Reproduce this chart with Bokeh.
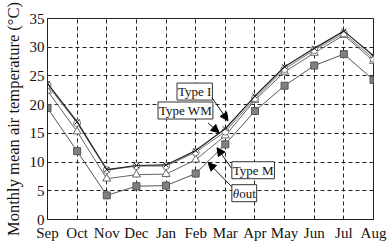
from bokeh.plotting import figure
from bokeh.models import Range1d, Label, Arrow, NormalHead, FixedTicker
from bokeh.embed import file_html
from bokeh.resources import INLINE

months = ["Sep", "Oct", "Nov", "Dec", "Jan", "Feb", "Mar", "Apr", "May", "Jun", "Jul", "Aug"]
type_i = [23.7, 17.0, 8.7, 9.4, 9.5, 12.0, 15.8, 21.5, 26.6, 29.8, 32.8, 28.5]
type_wm = [23.4, 16.8, 8.6, 9.3, 9.3, 11.7, 15.3, 21.1, 26.2, 29.5, 32.4, 28.0]
type_m = [22.4, 15.3, 7.1, 7.8, 7.9, 10.4, 14.6, 20.8, 25.7, 29.0, 32.1, 27.6]
theta_out = [19.4, 11.9, 4.2, 5.8, 5.9, 8.0, 13.1, 18.9, 23.3, 26.8, 28.8, 24.3]
y_ticks = [0, 5, 10, 15, 20, 25, 30, 35]

xs = list(range(len(months)))
FONT = "Liberation Serif"

p = figure(width=387, height=243, output_backend="svg", toolbar_location=None,
           x_range=Range1d(0, 11), y_range=Range1d(0, 35),
           min_border_left=46, min_border_right=14, min_border_top=18, min_border_bottom=23)
p.background_fill_color = "white"
p.outline_line_color = "#222222"
p.outline_line_width = 1

p.xaxis.ticker = FixedTicker(ticks=xs)
p.xaxis.major_label_overrides = {i: m for i, m in enumerate(months)}
p.yaxis.ticker = FixedTicker(ticks=y_ticks)
for ax in (p.xaxis, p.yaxis):
    ax.major_label_text_font = FONT
    ax.major_label_text_font_size = "15px"
    ax.major_label_text_color = "#111111"
    ax.major_tick_out = 0
    ax.major_tick_in = 0
    ax.minor_tick_out = 0
    ax.minor_tick_in = 0
    ax.axis_line_color = "#222222"
p.xaxis.major_label_standoff = 5
p.yaxis.major_label_standoff = 3
p.yaxis.axis_label = "Monthly mean air temperature (°C)"
p.yaxis.axis_label_text_font = FONT
p.yaxis.axis_label_text_font_size = "16.5px"
p.yaxis.axis_label_text_font_style = "normal"
p.yaxis.axis_label_text_color = "#111111"
p.yaxis.axis_label_standoff = 4

p.grid.grid_line_color = "#222222"
p.grid.grid_line_dash = "4 3"
p.grid.grid_line_width = 1

# series
p.line(xs, theta_out, line_color="#555555", line_width=1)
p.scatter(xs, theta_out, marker="square", size=7, fill_color="#808080", line_color="#555555")
p.line(xs, type_m, line_color="#666666", line_width=1)
p.scatter(xs, type_m, marker="triangle", size=8, fill_color="white", line_color="#666666")
p.line(xs, type_wm, line_color="#777777", line_width=1)
p.scatter(xs, type_wm, marker="circle", size=7, fill_color="white", line_color="#777777")
p.line(xs, type_i, line_color="#222222", line_width=1.2)
p.scatter(xs, type_i, marker="x", size=7, line_color="#222222", line_width=1)

# annotations
def box(x, y, text, color="#111111"):
    lab = Label(x=x, y=y, text=text, text_font=FONT, text_font_size="13px",
                text_color=color, border_line_color="#333333",
                border_line_width=1, background_fill_color="white", padding=1)
    p.add_layout(lab)

box(4.37, 20.8, "Type I")
box(3.73, 17.5, "Type WM")
box(6.22, 7.1, "Type M")
# theta_out box: outlined box, italic theta + upright "out"
box(6.22, 3.1, "θout", color="white")
p.add_layout(Label(x=6.22, y=3.1, text="θ", text_font=FONT, text_font_size="13px",
                   text_font_style="italic", text_color="#111111", x_offset=1, y_offset=1))
p.add_layout(Label(x=6.22, y=3.1, text="out", text_font=FONT, text_font_size="13px",
                   text_color="#111111", x_offset=7.5, y_offset=1))

def arrow(x0, y0, x1, y1):
    p.add_layout(Arrow(x_start=x0, y_start=y0, x_end=x1, y_end=y1,
                       line_color="#111111", line_width=1,
                       end=NormalHead(size=8, fill_color="black", line_color="black")))

arrow(5.55, 21.2, 6.09, 17.2)
arrow(5.42, 16.8, 5.79, 15.1)
arrow(6.2, 9.0, 5.72, 12.5)
arrow(6.22, 5.7, 5.42, 9.9)

open("out.html", "w").write(file_html(p, INLINE))
